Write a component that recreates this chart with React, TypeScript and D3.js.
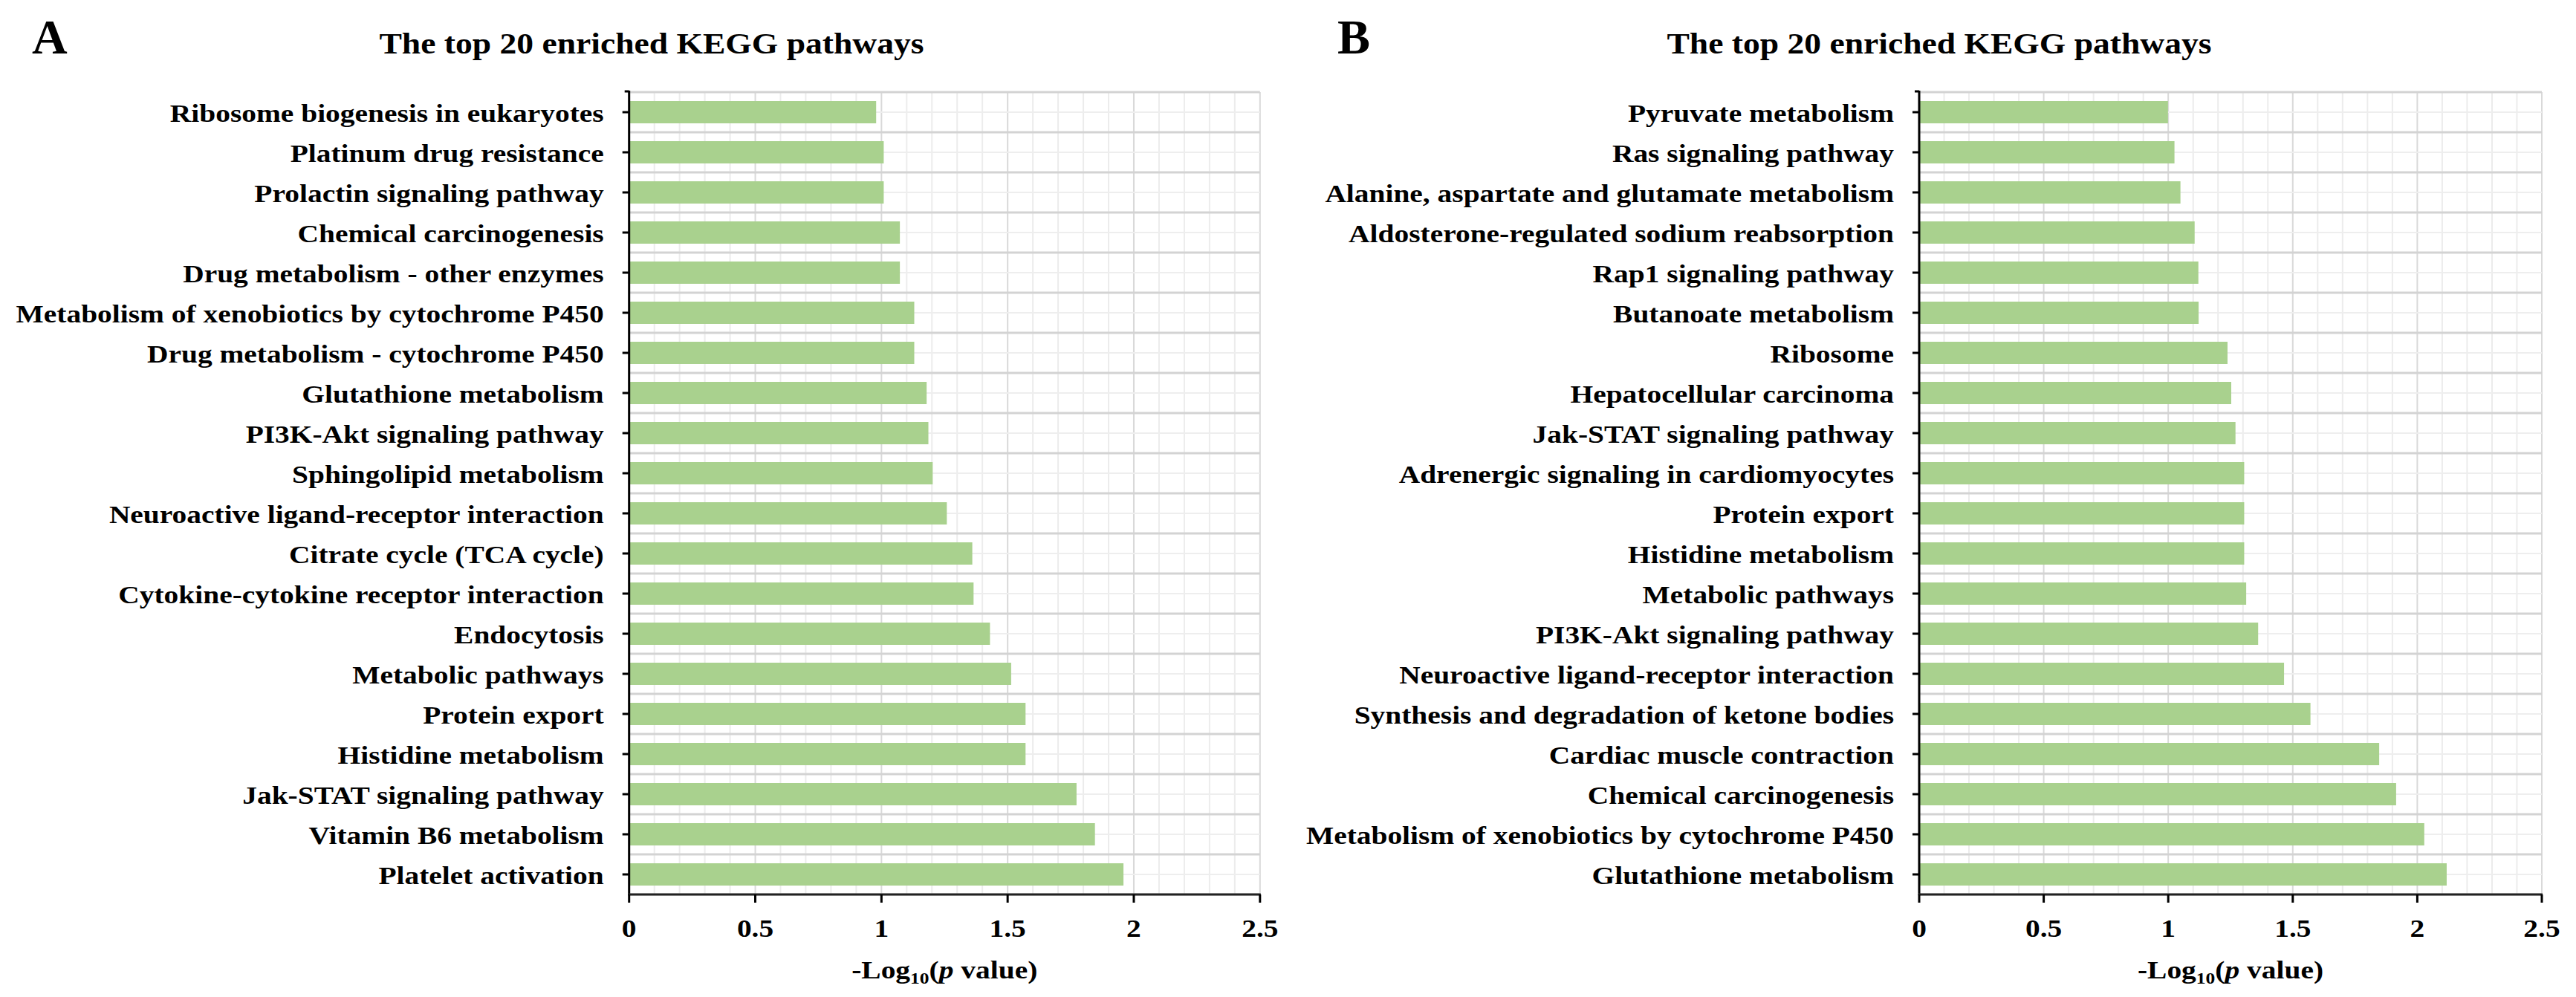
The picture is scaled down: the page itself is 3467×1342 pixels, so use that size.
import React from 'react';
import * as d3 from 'd3';

// Panel A: pathways top to bottom, -log10(p)
const pathwaysA = [
  'Ribosome biogenesis in eukaryotes',
  'Platinum drug resistance',
  'Prolactin signaling pathway',
  'Chemical carcinogenesis',
  'Drug metabolism - other enzymes',
  'Metabolism of xenobiotics by cytochrome P450',
  'Drug metabolism - cytochrome P450',
  'Glutathione metabolism',
  'PI3K-Akt signaling pathway',
  'Sphingolipid metabolism',
  'Neuroactive ligand-receptor interaction',
  'Citrate cycle (TCA cycle)',
  'Cytokine-cytokine receptor interaction',
  'Endocytosis',
  'Metabolic pathways',
  'Protein export',
  'Histidine metabolism',
  'Jak-STAT signaling pathway',
  'Vitamin B6 metabolism',
  'Platelet activation',
];
const scoresA = [
  0.979, 1.009, 1.009, 1.073, 1.073, 1.13, 1.13, 1.179, 1.186, 1.203,
  1.259, 1.36, 1.365, 1.43, 1.514, 1.571, 1.571, 1.773, 1.846, 1.959,
];

// Panel B
const pathwaysB = [
  'Pyruvate metabolism',
  'Ras signaling pathway',
  'Alanine, aspartate and glutamate metabolism',
  'Aldosterone-regulated sodium reabsorption',
  'Rap1 signaling pathway',
  'Butanoate metabolism',
  'Ribosome',
  'Hepatocellular carcinoma',
  'Jak-STAT signaling pathway',
  'Adrenergic signaling in cardiomyocytes',
  'Protein export',
  'Histidine metabolism',
  'Metabolic pathways',
  'PI3K-Akt signaling pathway',
  'Neuroactive ligand-receptor interaction',
  'Synthesis and degradation of ketone bodies',
  'Cardiac muscle contraction',
  'Chemical carcinogenesis',
  'Metabolism of xenobiotics by cytochrome P450',
  'Glutathione metabolism',
];
const scoresB = [
  0.999, 1.025, 1.049, 1.106, 1.121, 1.122, 1.238, 1.253, 1.27, 1.305,
  1.305, 1.305, 1.313, 1.361, 1.465, 1.571, 1.847, 1.915, 2.028, 2.118,
];

const axisTicks = [0, 0.5, 1, 1.5, 2, 2.5];
const axisTickLabels = ['0', '0.5', '1', '1.5', '2', '2.5'];
const chartTitle = 'The top 20 enriched KEGG pathways';

const FONT = '"Liberation Serif", "Times New Roman", serif';
const SX = 1.16; // the source figure is stretched horizontally

interface PanelProps {
  letter: string;
  letterX: number;
  titleX: number;
  left: number;
  right: number;
  top: number;
  bottom: number;
  pathways: string[];
  scores: number[];
}

const Panel: React.FC<PanelProps> = ({ letter, letterX, titleX, left, right, top, bottom, pathways, scores }) => {
  const x = d3.scaleLinear().domain([0, 2.5]).range([left, right]);
  const y = d3.scaleBand<string>().domain(pathways).range([top, bottom]).padding(0);
  const step = y.bandwidth();
  const barH = step / 1.8; // excel gap width 80%
  const minorX = x.ticks(25);
  const bounds = [...pathways.map(p => y(p) as number), bottom];
  const centers = pathways.map(p => (y(p) as number) + step / 2);
  const mid = (left + right) / 2;

  return (
    <g>
      <text x={letterX} y={72} fontFamily={FONT} fontWeight="bold" fontSize={66}>{letter}</text>
      <text transform={`translate(${titleX},72) scale(1.14,1)`} textAnchor="middle"
        fontFamily={FONT} fontWeight="bold" fontSize={40}>{chartTitle}</text>

      {/* grid */}
      {minorX.map((t, i) => (
        <line key={'vx' + i} x1={x(t)} x2={x(t)} y1={top} y2={bottom}
          stroke={Math.abs((t * 2) % 1) < 1e-6 ? '#d9d9d9' : '#ececec'} strokeWidth={2} />
      ))}
      {centers.map((c, i) => (
        <line key={'hc' + i} x1={left} x2={right} y1={c} y2={c} stroke="#eeeeee" strokeWidth={2} />
      ))}
      {bounds.map((b, i) => (
        <line key={'hb' + i} x1={left} x2={right} y1={b} y2={b} stroke="#d3d3d3" strokeWidth={3} />
      ))}

      {/* bars */}
      {pathways.map((p, i) => (
        <rect key={'b' + i} x={x(0)} y={centers[i] - barH / 2} width={x(scores[i]) - x(0)} height={barH}
          fill="#a9d18e" />
      ))}

      {/* y axis */}
      <line x1={left} x2={left} y1={top - 2} y2={bottom + 1} stroke="#000" strokeWidth={3} />
      <line x1={left - 6} x2={left} y1={top - 1} y2={top - 1} stroke="#000" strokeWidth={3} />
      {centers.map((c, i) => (
        <line key={'yt' + i} x1={left - 9} x2={left} y1={c} y2={c} stroke="#000" strokeWidth={3} />
      ))}
      {pathways.map((p, i) => (
        <text key={'yl' + i} transform={`translate(${left - 34},${centers[i] + 13}) scale(${SX},1)`}
          textAnchor="end" fontFamily={FONT} fontWeight="bold" fontSize={34}>{p}</text>
      ))}

      {/* x axis */}
      <line x1={left - 1} x2={right + 1} y1={bottom} y2={bottom} stroke="#222" strokeWidth={3} />
      {axisTicks.map((t, i) => (
        <g key={'xt' + i}>
          <line x1={x(t)} x2={x(t)} y1={bottom} y2={bottom + 11} stroke="#000" strokeWidth={3} />
          <text transform={`translate(${x(t)},${bottom + 57}) scale(${SX},1)`} textAnchor="middle"
            fontFamily={FONT} fontWeight="bold" fontSize={34}>{axisTickLabels[i]}</text>
        </g>
      ))}
      <text transform={`translate(${mid},${bottom + 113}) scale(${SX},1)`} textAnchor="middle"
        fontFamily={FONT} fontWeight="bold" fontSize={34}>
        -Log<tspan fontSize={22} dy={7}>10</tspan><tspan dy={-7}>(</tspan>
        <tspan fontStyle="italic">p</tspan> value)
      </text>
    </g>
  );
};

export default function App() {
  return (
    <svg width={3467} height={1342} style={{ position: 'absolute', left: 0, top: 0, background: '#fff' }}>
      <rect width={3467} height={1342} fill="#fff" />
      <Panel letter="A" letterX={43} titleX={877} left={846.7} right={1695.8} top={124} bottom={1204}
        pathways={pathwaysA} scores={scoresA} />
      <Panel letter="B" letterX={1800} titleX={2610} left={2583} right={3421} top={124} bottom={1204}
        pathways={pathwaysB} scores={scoresB} />
    </svg>
  );
}
